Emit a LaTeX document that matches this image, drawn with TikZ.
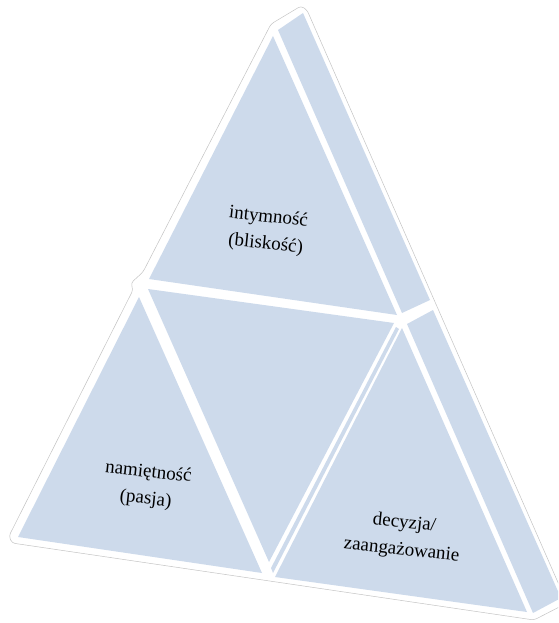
\documentclass[tikz,border=0pt]{standalone}
\usepackage{fontspec}
\setmainfont{Liberation Serif}
\definecolor{facecol}{RGB}{205,218,235}
\definecolor{rimcol}{RGB}{195,195,195}
\begin{document}
\begin{tikzpicture}[x=1pt,y=-1pt,
  facet/.style={fill=facecol},
  rim/.style={draw=rimcol, line width=0.5pt, rounded corners=3pt},
  lbl/.style={align=center, font=\fontsize{19}{27}\selectfont, rotate=-6, text=black, inner sep=0pt}]
\useasboundingbox (0,0) rectangle (558,623);
\clip (0,0) rectangle (558,623);
% thin outline round the whole shape
\draw[rim] (271,24) -- (301,6) -- (307,10) -- (567,603) -- (534,620) -- (12,543) -- (9,536) -- (133,290) -- (131,283) -- (143,272) -- cycle;
% side faces
\fill[facet] (278,30) -- (303,13) -- (430,300) -- (402,313) -- cycle;
\fill[facet] (407,324) -- (433,310) -- (561,598) -- (533,613) -- cycle;
% front faces
\fill[facet] (273,36) -- (149,279) -- (397,315) -- cycle;
\fill[facet] (148,289) -- (394,323) -- (269,562) -- cycle;
\fill[facet] (139,297) -- (18,537) -- (262,573) -- cycle;
\fill[facet] (402,328) -- (275,577) -- (527,612) -- cycle;
% thin side sliver of the middle face
\fill[facet] (396,327) -- (399,329) -- (273,573) -- (271,568) -- cycle;
% labels
\node[lbl] (intimacy) at (267,231) {intymność\\(bliskość)};
\node[lbl] (passion) at (147,486) {namiętność\\(pasja)};
\node[lbl] (commit) at (403,537) {decyzja/\\zaangażowanie};
\end{tikzpicture}
\end{document}
